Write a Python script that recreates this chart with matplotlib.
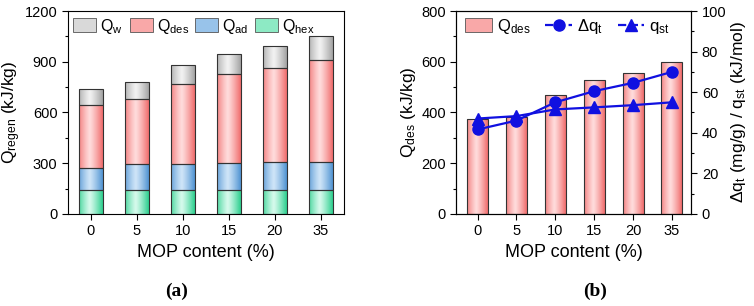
import numpy as np
import matplotlib
matplotlib.use("Agg")
import matplotlib.pyplot as plt
from matplotlib.patches import Rectangle, Patch
from matplotlib.lines import Line2D
from matplotlib.colors import to_rgb
from matplotlib.ticker import AutoMinorLocator, MultipleLocator

plt.rcParams['font.family'] = ['Liberation Sans', 'DejaVu Sans']
plt.rcParams['mathtext.fontset'] = 'custom'
plt.rcParams['mathtext.rm'] = 'Liberation Sans'
plt.rcParams['mathtext.it'] = 'Liberation Sans'

# data
mop = ['0', '5', '10', '15', '20', '35']
q_hex = [142, 142, 142, 142, 142, 142]
q_ad = [131, 154, 156, 158, 162, 166]
q_des = [374, 384, 470, 528, 557, 600]
q_w = [93, 99, 113, 119, 133, 142]
dq_t = [41.6, 46.0, 55.0, 60.5, 64.6, 70.0]
q_st = [47.0, 48.2, 51.5, 52.5, 53.6, 55.0]

# (dark edge colour, light centre colour)
c_w = ('#a3a3a3', '#f2f2f2')
c_des = ('#f06c6c', '#ffdcdc')
c_ad = ('#4f93d2', '#cfe5f8')
c_hex = ('#2ccf8e', '#d6faec')
line_col = '#1010e0'


def grad_bar(ax, x, bottom, height, width, cols):
    """bar with a horizontal shading, light in the middle"""
    dark = np.array(to_rgb(cols[0]))
    light = np.array(to_rgb(cols[1]))
    t = np.linspace(0, 1, 64)
    w = 1 - np.clip(np.abs(t - 0.45) / 0.55, 0, 1) ** 1.2
    img = dark[None, :] * (1 - w[:, None]) + light[None, :] * w[:, None]
    img = img[None, :, :]
    rect = Rectangle((x - width / 2, bottom), width, height, facecolor='none',
                     edgecolor='#333333', linewidth=0.8, zorder=3)
    ax.add_patch(rect)
    im = ax.imshow(img, extent=(x - width / 2, x + width / 2, bottom, bottom + height),
                   aspect='auto', zorder=2, interpolation='bilinear')
    im.set_clip_path(rect)


def style_axis(ax):
    ax.tick_params(axis='both', direction='out', labelsize=10.5, length=4, width=0.8)
    ax.tick_params(axis='y', which='minor', direction='out', length=2.5, width=0.8)
    for s in ax.spines.values():
        s.set_linewidth(0.8)


fig = plt.figure(figsize=(7.54, 3.06), dpi=100)
ax1 = fig.add_axes([0.090, 0.301, 0.366, 0.663])
ax2 = fig.add_axes([0.605, 0.301, 0.312, 0.663])

x = np.arange(len(mop))

# panel (a) stacked bars
for i in x:
    b = 0
    for vals, cols in [(q_hex, c_hex), (q_ad, c_ad), (q_des, c_des), (q_w, c_w)]:
        grad_bar(ax1, i, b, vals[i], 0.52, cols)
        b += vals[i]

ax1.set_xlim(-0.5, 5.5)
ax1.set_ylim(0, 1200)
ax1.set_xticks(x)
ax1.set_xticklabels(mop)
ax1.yaxis.set_major_locator(MultipleLocator(300))
ax1.yaxis.set_minor_locator(AutoMinorLocator(2))
style_axis(ax1)
ax1.set_xlabel('MOP content (%)', fontsize=13)
ax1.set_ylabel(r'Q$_\mathregular{regen}$ (kJ/kg)', fontsize=12.5, labelpad=1)

handles = [Patch(facecolor='#d9d9d9', edgecolor='#555555', linewidth=0.6),
           Patch(facecolor='#f9a8a8', edgecolor='#555555', linewidth=0.6),
           Patch(facecolor='#98c3ea', edgecolor='#555555', linewidth=0.6),
           Patch(facecolor='#8deac4', edgecolor='#555555', linewidth=0.6)]
labels = [r'Q$_\mathregular{w}$', r'Q$_\mathregular{des}$',
          r'Q$_\mathregular{ad}$', r'Q$_\mathregular{hex}$']
ax1.legend(handles, labels, loc='upper left', ncol=4, frameon=False, fontsize=11.5,
           handlelength=1.45, handleheight=0.9, handletextpad=0.25, columnspacing=0.4,
           borderaxespad=0.2, bbox_to_anchor=(-0.015, 1.02))

# panel (b) bars + lines
for i in x:
    grad_bar(ax2, i, 0, q_des[i], 0.54, c_des)
ax2.set_xlim(-0.55, 5.5)
ax2.set_ylim(0, 800)
ax2.set_xticks(x)
ax2.set_xticklabels(mop)
ax2.yaxis.set_major_locator(MultipleLocator(200))
ax2.yaxis.set_minor_locator(AutoMinorLocator(2))
style_axis(ax2)
ax2.set_xlabel('MOP content (%)', fontsize=13)
ax2.set_ylabel(r'Q$_\mathregular{des}$ (kJ/kg)', fontsize=12.5, labelpad=2)

ax3 = ax2.twinx()
ax3.plot(x, dq_t, '-o', color=line_col, lw=1.6, ms=8, zorder=5)
ax3.plot(x, q_st, '-^', color=line_col, lw=1.6, ms=8.5, zorder=5)
ax3.set_ylim(0, 100)
ax3.yaxis.set_major_locator(MultipleLocator(20))
ax3.yaxis.set_minor_locator(AutoMinorLocator(2))
style_axis(ax3)
ax3.set_ylabel(r'$\mathregular{\Delta}$q$_\mathregular{t}$ (mg/g) / q$_\mathregular{st}$ (kJ/mol)',
               fontsize=12.5, labelpad=2)

h2 = [Patch(facecolor='#f9a8a8', edgecolor='#555555', linewidth=0.6),
      Line2D([], [], color=line_col, marker='o', ls='--', lw=1.6, ms=8),
      Line2D([], [], color=line_col, marker='^', ls='--', lw=1.6, ms=8.5)]
l2 = [r'Q$_\mathregular{des}$', r'$\mathregular{\Delta}$q$_\mathregular{t}$', r'q$_\mathregular{st}$']
ax3.legend(h2, l2, loc='upper left', ncol=3, frameon=False, fontsize=12,
           handlelength=1.6, handleheight=0.9, handletextpad=0.3, columnspacing=0.9,
           borderaxespad=0.2, bbox_to_anchor=(-0.005, 1.02))

fig.text(177 / 754, 1 - 291 / 306, '(a)', family='Liberation Serif', weight='bold',
         fontsize=14, ha='center', va='center')
fig.text(595 / 754, 1 - 291 / 306, '(b)', family='Liberation Serif', weight='bold',
         fontsize=14, ha='center', va='center')

fig.savefig('out.png', dpi=100)
